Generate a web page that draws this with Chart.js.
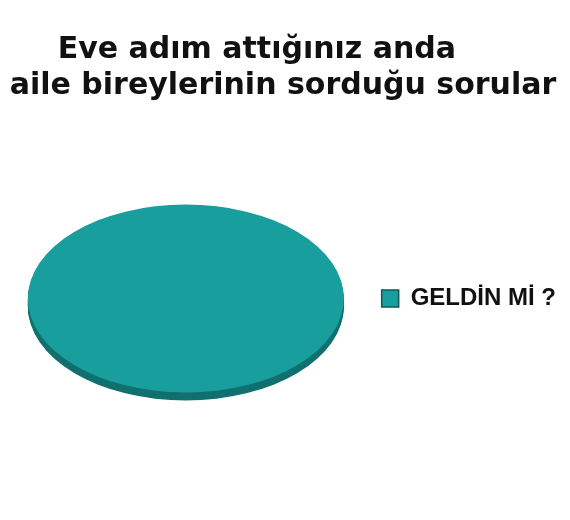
<!DOCTYPE html>
<html>
<head>
<meta charset="utf-8">
<script src="https://cdn.jsdelivr.net/npm/chart.js@4.4.1/dist/chart.umd.min.js"></script>
<style>
  html, body { margin: 0; padding: 0; background: #ffffff; }
  #wrap { width: 570px; height: 520px; position: relative; }
</style>
</head>
<body>
<div id="wrap"><canvas id="c"></canvas></div>
<script>
// ---- data ----
const titleLines = ['Eve adım attığınız anda     ', 'aile bireylerinin sorduğu sorular'];
const categories = ['GELDİN Mİ ?'];
const values = [100];
const sliceColors = ['#199e9e'];
const rimColors = ['#11706f'];
const legendBorder = '#0c5857';

const TILT = 0.595;   // vertical squash of the pie
const DEPTH = 8;      // rim thickness in px

const tiltPlugin = {
  id: 'tilt',
  beforeDatasetsDraw(chart) {
    const ctx = chart.ctx;
    const meta = chart.getDatasetMeta(0);
    const arc = meta.data[0];
    const cx = arc.x, cy = arc.y;
    ctx.save();
    ctx.translate(cx, cy);
    ctx.scale(1, TILT);
    ctx.translate(-cx, -cy);
    // rim: stacked copies below the top face
    meta.data.forEach((el, i) => {
      const o = el.options;
      const bg = o.backgroundColor, bc = o.borderColor;
      o.backgroundColor = rimColors[i % rimColors.length];
      o.borderColor = rimColors[i % rimColors.length];
      for (let d = DEPTH; d >= 1; d--) {
        ctx.save();
        ctx.translate(0, d / TILT);
        el.draw(ctx);
        ctx.restore();
      }
      o.backgroundColor = bg;
      o.borderColor = bc;
    });
  },
  afterDatasetsDraw(chart) {
    chart.ctx.restore();
  }
};

new Chart(document.getElementById('c'), {
  type: 'pie',
  data: {
    labels: categories,
    datasets: [{
      data: values,
      backgroundColor: sliceColors,
      borderWidth: 0,
      radius: 158,
      clip: false
    }]
  },
  options: {
    responsive: true,
    maintainAspectRatio: false,
    animation: false,
    layout: { padding: { left: 0, right: 4, top: 0, bottom: 37 } },
    plugins: {
      title: {
        display: true,
        text: titleLines,
        color: '#111111',
        font: { family: '"DejaVu Sans", Verdana, sans-serif', size: 30, weight: 'bold', lineHeight: 1.2 },
        padding: { top: 32, bottom: 10 }
      },
      legend: {
        display: true,
        position: 'right',
        fullSize: false,
        labels: {
          color: '#111111',
          boxWidth: 17,
          boxHeight: 17,
          padding: 10,
          font: { family: '"Liberation Sans", Arial, sans-serif', size: 24, weight: 'bold' },
          generateLabels(chart) {
            const items = Chart.overrides.pie.plugins.legend.labels.generateLabels(chart);
            items.forEach(it => { it.strokeStyle = legendBorder; it.lineWidth = 1.5; });
            return items;
          }
        }
      },
      tooltip: { enabled: false }
    }
  },
  plugins: [tiltPlugin]
});
</script>
</body>
</html>
